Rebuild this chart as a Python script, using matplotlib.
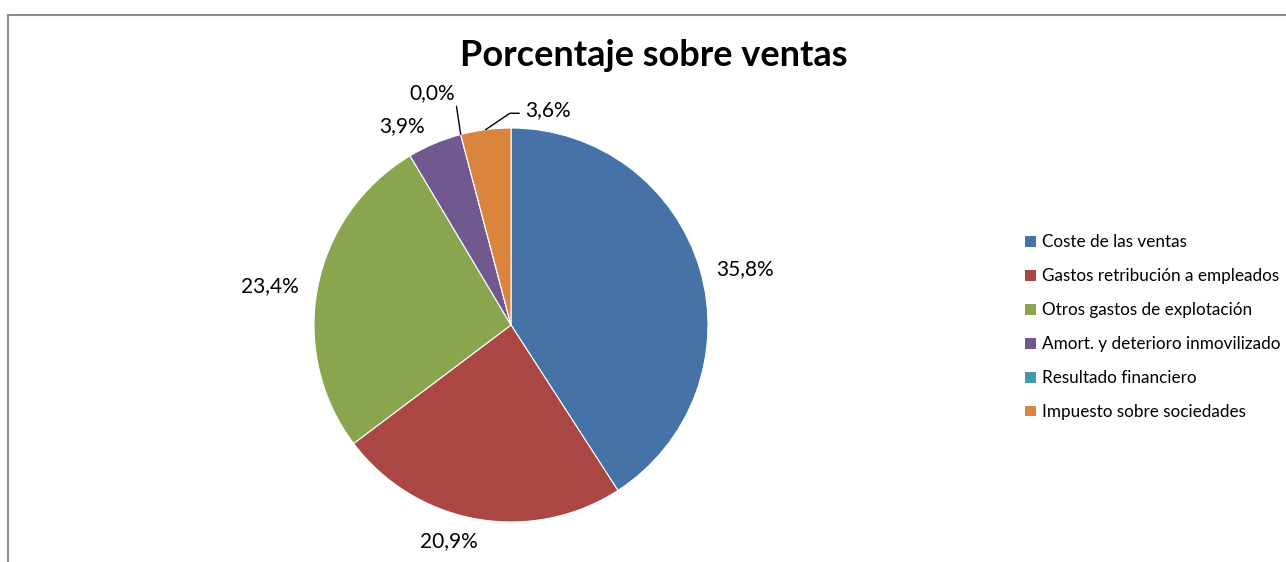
import numpy as np
import matplotlib
matplotlib.use("Agg")
import matplotlib.pyplot as plt
from matplotlib.patches import Patch
from matplotlib.lines import Line2D

plt.rcParams['font.family'] = ['Lato', 'DejaVu Sans']

# Data
categories = ["Coste de las ventas", "Gastos retribución a empleados",
              "Otros gastos de explotación", "Amort. y deterioro inmovilizado",
              "Resultado financiero", "Impuesto sobre sociedades"]
values = [35.8, 20.9, 23.4, 3.9, 0.0, 3.6]
colors = ["#4572A7", "#AA4643", "#89A54E", "#71588F", "#4198AF", "#DB843D"]

W, H = 1286, 562
fig = plt.figure(figsize=(W / 100, H / 100), dpi=100)

# pie axes: centre at (511, 325) px, radius ~197 px
R = 197
lim = 1.45
side = 2 * lim * R
cx, cy = 511, H - 325
ax = fig.add_axes([(cx - side / 2) / W, (cy - side / 2) / H, side / W, side / H])

wedges, _ = ax.pie(values, colors=colors, startangle=90, counterclock=False,
                   radius=1, wedgeprops=dict(linewidth=0.8, edgecolor='white'))
ax.set_xlim(-lim, lim)
ax.set_ylim(-lim, lim)
ax.set_aspect('equal')
ax.axis('off')

# label placement: (radial distance, angle shift in degrees) per wedge
label_pos = [(1.22, -3), (1.14, -6), (1.24, 2), (1.15, 6), None, None]
for w, v, pos in zip(wedges, values, label_pos):
    txt = f"{v:.1f}%".replace('.', ',')
    mid = np.deg2rad((w.theta1 + w.theta2) / 2)
    if pos is not None:
        r, da = pos
        a = mid + np.deg2rad(da)
        ax.text(r * np.cos(a), r * np.sin(a), txt, ha='center', va='center',
                fontsize=15, color='black')

# leader lines for the two small slices at the top
w0 = wedges[4]
a0 = np.deg2rad(w0.theta1)
ax.annotate(f"{values[4]:.1f}%".replace('.', ','),
            xy=(np.cos(a0), np.sin(a0)), xytext=(-0.285, 1.175),
            ha='right', va='center', fontsize=15,
            arrowprops=dict(arrowstyle='-', color='black', lw=1,
                            shrinkA=0, shrinkB=0, relpos=(1.02, 0.1)))
w5 = wedges[5]
a5 = np.deg2rad((w5.theta1 + w5.theta2) / 2)
ax.annotate(f"{values[5]:.1f}%".replace('.', ','),
            xy=(np.cos(a5), np.sin(a5)), xytext=(0.07, 1.09),
            ha='left', va='center', fontsize=15,
            arrowprops=dict(arrowstyle='-', color='black', lw=1,
                            shrinkA=2, shrinkB=0, relpos=(0, 0.35),
                            connectionstyle="angle,angleA=0,angleB=34,rad=0"))

fig.text(654 / W, 1 - 55 / H, "Porcentaje sobre ventas", ha='center', va='center',
         fontsize=26, fontweight='bold')

handles = [Patch(facecolor=c, edgecolor='none') for c in colors]
fig.legend(handles, categories, loc='upper left',
           bbox_to_anchor=(1010 / W, 1 - 219 / H), frameon=False,
           fontsize=12.3, handlelength=0.6, handleheight=0.6, handletextpad=0.35,
           labelspacing=1.05)

# chart frame (only top and left edge visible)
fig.add_artist(Line2D([7.5 / W, 1], [1 - 14.5 / H, 1 - 14.5 / H], color='#8c8c8c', lw=1.5))
fig.add_artist(Line2D([7.5 / W, 7.5 / W], [0, 1 - 14.5 / H], color='#8c8c8c', lw=1.5))

fig.savefig("out.png", dpi=100, facecolor='white')
